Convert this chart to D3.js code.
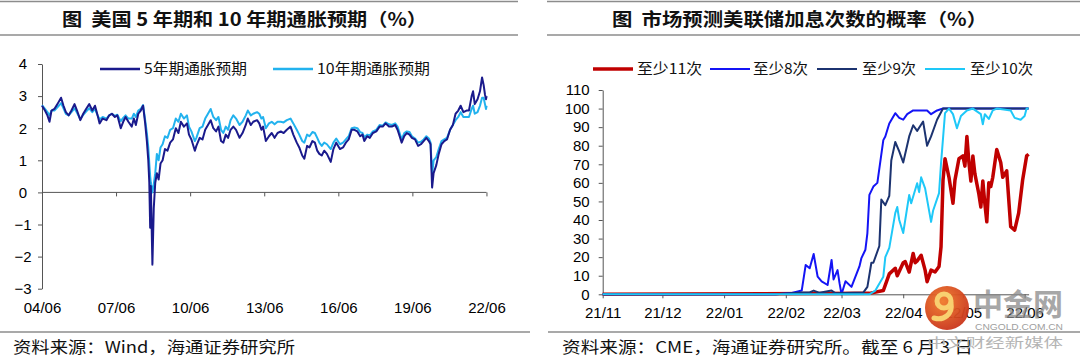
<!DOCTYPE html>
<html><head><meta charset="utf-8">
<script src="https://cdn.jsdelivr.net/npm/d3@7"></script>
<style>body{margin:0;background:#fff;}svg{display:block;}text{white-space:pre;}</style>
</head><body>
<svg id="c" width="1080" height="359"></svg>
<script>
// ---------------- LEFT CHART DATA ----------------
const leftDates = ["2004-06-01","2004-07-15","2004-08-20","2004-09-20","2004-10-20","2004-12-01","2005-01-15","2005-03-10","2005-04-15","2005-05-20","2005-07-01","2005-08-10","2005-09-25","2005-11-01","2005-12-20","2006-02-01","2006-03-15","2006-05-01","2006-06-15","2006-07-25","2006-09-01","2006-10-01","2006-11-15","2007-01-10","2007-02-20","2007-04-01","2007-05-15","2007-06-20","2007-08-10","2007-09-15","2007-10-20","2007-12-01","2008-01-20","2008-02-20","2008-03-20","2008-04-25","2008-06-01","2008-07-05","2008-08-05","2008-08-30","2008-09-20","2008-10-05","2008-10-18","2008-10-28","2008-11-20","2008-12-10","2009-01-01","2009-01-25","2009-02-20","2009-03-20","2009-04-20","2009-05-25","2009-07-01","2009-08-10","2009-09-20","2009-11-01","2009-12-10","2010-01-15","2010-03-01","2010-04-15","2010-05-15","2010-06-20","2010-08-10","2010-09-01","2010-10-20","2010-12-01","2011-01-10","2011-02-20","2011-04-01","2011-05-10","2011-06-20","2011-07-25","2011-09-01","2011-10-05","2011-11-10","2011-12-15","2012-01-20","2012-03-01","2012-04-10","2012-06-01","2012-07-15","2012-09-01","2012-10-01","2012-11-15","2012-12-20","2013-02-15","2013-03-20","2013-04-20","2013-05-15","2013-06-25","2013-08-10","2013-09-20","2013-11-01","2013-12-15","2014-02-01","2014-03-15","2014-05-01","2014-06-25","2014-08-05","2014-09-25","2014-11-01","2014-12-15","2015-01-15","2015-02-25","2015-04-01","2015-05-15","2015-06-20","2015-07-25","2015-08-25","2015-09-30","2015-11-05","2015-12-15","2016-02-10","2016-03-20","2016-05-01","2016-06-25","2016-08-10","2016-09-20","2016-11-01","2016-12-15","2017-01-25","2017-03-10","2017-04-20","2017-05-25","2017-06-20","2017-08-01","2017-09-10","2017-10-25","2017-12-15","2018-02-01","2018-03-20","2018-05-01","2018-06-20","2018-08-01","2018-09-20","2018-10-25","2018-11-25","2018-12-25","2019-02-01","2019-03-10","2019-04-20","2019-05-25","2019-07-10","2019-08-25","2019-10-05","2019-11-15","2019-12-25","2020-01-31","2020-02-25","2020-03-19","2020-04-10","2020-05-20","2020-06-25","2020-08-05","2020-09-15","2020-10-25","2020-12-10","2021-01-20","2021-03-01","2021-04-10","2021-05-15","2021-06-25","2021-08-10","2021-09-15","2021-10-25","2021-11-15","2021-12-10","2022-01-20","2022-02-25","2022-03-15","2022-03-28","2022-04-20","2022-05-10","2022-05-25","2022-06-03"];
const breakeven5y = [2.70,2.55,2.40,2.20,2.55,2.60,2.75,2.95,2.70,2.50,2.40,2.55,2.75,2.55,2.25,2.45,2.60,2.75,2.55,2.70,2.40,2.15,2.30,2.25,2.40,2.45,2.35,2.40,2.00,2.20,2.35,2.20,2.05,2.30,2.10,2.45,2.55,2.70,2.15,1.60,1.00,0.30,-1.10,0.20,-2.25,-0.50,0.30,0.60,0.40,0.90,1.00,1.35,1.30,1.55,1.65,2.00,1.85,2.20,2.05,2.15,1.80,1.65,1.30,1.45,1.70,1.65,1.95,2.10,2.25,2.00,1.90,2.05,1.60,1.55,1.80,1.70,1.95,2.05,1.95,1.70,1.85,2.10,2.30,2.10,2.20,2.25,2.15,1.95,2.05,1.60,1.75,1.85,1.70,1.85,1.90,1.85,1.95,2.05,1.80,1.55,1.40,1.15,1.05,1.45,1.40,1.60,1.55,1.30,1.20,1.15,1.30,1.20,0.95,1.35,1.55,1.35,1.40,1.55,1.65,1.95,1.95,1.90,1.75,1.80,1.60,1.75,1.70,1.85,1.90,2.05,2.05,2.15,2.05,2.05,2.10,1.95,1.75,1.55,1.75,1.85,1.80,1.70,1.65,1.45,1.50,1.60,1.70,1.60,1.50,0.15,0.60,0.85,1.20,1.50,1.60,1.65,1.95,2.10,2.45,2.55,2.70,2.50,2.55,2.55,3.00,3.15,2.75,2.90,3.15,3.40,3.58,3.35,3.05,2.90,3.00];
const breakeven10y = [2.72,2.60,2.50,2.40,2.55,2.55,2.65,2.78,2.62,2.45,2.40,2.50,2.62,2.48,2.28,2.42,2.52,2.62,2.50,2.60,2.40,2.28,2.35,2.30,2.40,2.45,2.38,2.42,2.22,2.32,2.40,2.30,2.30,2.45,2.35,2.55,2.60,2.72,2.25,1.85,1.40,0.90,0.50,0.30,0.00,0.25,0.60,1.20,1.00,1.40,1.50,1.75,1.70,1.95,2.00,2.30,2.20,2.45,2.30,2.40,2.05,1.90,1.60,1.70,2.00,2.05,2.30,2.45,2.60,2.35,2.25,2.35,1.95,1.85,2.05,1.95,2.25,2.40,2.30,2.10,2.20,2.40,2.55,2.40,2.45,2.50,2.45,2.30,2.35,2.00,2.15,2.20,2.12,2.20,2.20,2.18,2.25,2.30,2.15,1.95,1.80,1.60,1.55,1.80,1.75,1.88,1.85,1.70,1.55,1.45,1.55,1.50,1.35,1.55,1.68,1.50,1.55,1.65,1.75,2.00,2.02,2.00,1.88,1.85,1.72,1.80,1.78,1.90,1.95,2.10,2.08,2.18,2.12,2.10,2.15,2.05,1.85,1.65,1.85,1.90,1.88,1.75,1.68,1.55,1.58,1.65,1.75,1.68,1.55,0.55,1.00,1.10,1.35,1.60,1.65,1.70,1.95,2.10,2.25,2.35,2.50,2.35,2.35,2.35,2.60,2.70,2.45,2.50,2.70,2.85,2.95,2.95,2.75,2.60,2.70];
const leftYTicks = [-3,-2,-1,0,1,2,3,4];
const leftXTicks = ["2004-06-01","2007-06-01","2010-06-01","2013-06-01","2016-06-01","2019-06-01","2022-06-01"];
const leftXLabels = ["04/06","07/06","10/06","13/06","16/06","19/06","22/06"];
const leftNames = ["5年期通胀预期","10年期通胀预期"];

// ---------------- RIGHT CHART DATA ----------------
const dates11 = ["2021-11-01","2022-03-15","2022-03-22","2022-03-25","2022-03-28","2022-03-29","2022-04-01","2022-04-02","2022-04-04","2022-04-06","2022-04-07","2022-04-08","2022-04-10","2022-04-12","2022-04-13","2022-04-15","2022-04-17","2022-04-19","2022-04-20","2022-04-21","2022-04-22","2022-04-24","2022-04-26","2022-04-27","2022-04-29","2022-05-01","2022-05-02","2022-05-03","2022-05-04","2022-05-05","2022-05-06","2022-05-07","2022-05-09","2022-05-10","2022-05-11","2022-05-12","2022-05-13","2022-05-14","2022-05-15","2022-05-16","2022-05-18","2022-05-20","2022-05-21","2022-05-23","2022-05-25","2022-05-27","2022-05-29","2022-05-31","2022-06-02","2022-06-03"];
const prob11 = [0,0.5,2,11,14,10,17,17.6,12,22,17,18,21,13,6.8,13,12,15,25.6,61.5,73,63,49,61.5,73,74.5,69,85,71,61,74.5,65,54,47,61,49,39,60,58,63,78,71,63,66.5,36.4,34.6,43.7,61.5,74.5,75.4];
const dates8 = ["2021-11-01","2022-01-27","2022-02-03","2022-02-09","2022-02-11","2022-02-13","2022-02-15","2022-02-17","2022-02-19","2022-02-22","2022-02-24","2022-02-25","2022-02-27","2022-02-28","2022-03-01","2022-03-03","2022-03-06","2022-03-10","2022-03-11","2022-03-13","2022-03-14","2022-03-15","2022-03-17","2022-03-19","2022-03-22","2022-03-23","2022-03-25","2022-03-28","2022-03-30","2022-04-01","2022-04-03","2022-04-06","2022-04-13","2022-04-15","2022-04-18","2022-04-21","2022-06-03"];
const prob8 = [0,0,0.5,2,15.8,14,21.7,9.5,7,5,18.5,8,13,6,0,7,4,15,19.5,24,33,53.5,58,60,83,85,92,97.5,95,94,97,99,99,97,99,100,100];
const dates9 = ["2021-11-01","2022-01-27","2022-02-09","2022-02-13","2022-02-15","2022-02-18","2022-02-24","2022-02-26","2022-03-12","2022-03-14","2022-03-16","2022-03-17","2022-03-20","2022-03-21","2022-03-23","2022-03-25","2022-03-26","2022-03-28","2022-03-30","2022-04-01","2022-04-04","2022-04-06","2022-04-08","2022-04-11","2022-04-13","2022-04-15","2022-04-18","2022-04-21","2022-06-03"];
const prob9 = [0,0,1,1,2,0.8,2,0.5,1,4,17,17,26,51,48,53,72,82,77,71,85,91,88,93,80,85,94,100,100];
const dates10 = ["2021-11-01","2022-03-15","2022-03-18","2022-03-22","2022-03-23","2022-03-25","2022-03-28","2022-03-29","2022-03-30","2022-04-01","2022-04-04","2022-04-05","2022-04-08","2022-04-09","2022-04-10","2022-04-12","2022-04-15","2022-04-16","2022-04-19","2022-04-20","2022-04-22","2022-04-24","2022-04-26","2022-04-28","2022-04-30","2022-05-03","2022-05-06","2022-05-10","2022-05-11","2022-05-12","2022-05-14","2022-05-16","2022-05-18","2022-05-25","2022-05-27","2022-05-30","2022-06-01","2022-06-02","2022-06-03"];
const prob10 = [0,0,2,9.5,20,25,43.7,47,40,33,53.5,49,59.8,55,63,57,39,45,54.5,70.5,97.5,100,97,89.4,96,99,100,97,91.5,97,94.4,99,100,99,95,94,96,100,100];
const rightYTicks = [0,10,20,30,40,50,60,70,80,90,100,110];
const rightXTicks = ["2021-11-01","2021-12-01","2022-01-01","2022-02-01","2022-03-01","2022-04-01","2022-05-01","2022-06-01"];
const rightXLabels = ["21/11","21/12","22/01","22/02","22/03","22/04","22/05","22/06"];
const rightNames = ["至少11次","至少8次","至少9次","至少10次"];

// ---------------- DRAW ----------------
const svg = d3.select("#c");
const parse = d3.timeParse("%Y-%m-%d");
const CJK = "'Noto Sans CJK SC','Noto Sans',sans-serif";
const LAT = "'Liberation Sans',Arial,sans-serif";
const ruleC = "#8c8c8c";

function rule(x1,x2,y,w){svg.append("line").attr("x1",x1).attr("x2",x2).attr("y1",y).attr("y2",y).attr("stroke",ruleC).attr("stroke-width",w);}
function txt(s,x,y,size,len,opt={}){
  const t = svg.append("text").attr("x",x).attr("y",y).attr("font-size",size)
    .attr("font-family",opt.family||CJK).attr("fill",opt.fill||"#111").attr("xml:space","preserve").text(s);
  if(opt.weight) t.attr("font-weight",opt.weight);
  if(len){t.attr("textLength",len).attr("lengthAdjust","spacingAndGlyphs");}
  return t;
}
// title rules
rule(0,518,1.5,1.5); rule(0,518,35,1.5);
rule(547,1080,1.5,1.5); rule(547,1080,35,1.5);
rule(0,530,332,1.5); rule(548,1080,332,1.5);

txt("图\u00a0\u00a0美国 5 年期和 10 年期通胀预期（%）",62,25.5,18,365,{weight:"bold"});
txt("图\u00a0\u00a0市场预测美联储加息次数的概率（%）",612,25.5,18,375,{weight:"bold"});
txt("资料来源：Wind，海通证券研究所",13,353,16,282);
txt("资料来源：CME，海通证券研究所。截至 6 月 3 日",562,353,16,411);

// ----- left chart -----
const lx = d3.scaleTime().domain([parse("2004-06-01"),parse("2022-06-03")]).range([42,486.6]);
const ly = d3.scaleLinear().domain([-3,4]).range([288.7,64]);
const axisC = "#555";
const gly = svg.append("g").attr("transform","translate(42,0)")
  .call(d3.axisLeft(ly).tickValues(leftYTicks).tickSize(4).tickSizeOuter(0).tickFormat(d3.format("d")));
gly.selectAll("text").attr("text-anchor","middle").attr("x",-19);
const glx = svg.append("g").attr("transform",`translate(0,${ly(0)})`)
  .call(d3.axisBottom(lx).tickValues(leftXTicks.map(parse)).tickSize(4).tickSizeOuter(0).tickPadding(105.8)
    .tickFormat((d,i)=>leftXLabels[i]));
glx.select(".domain").attr("d",`M42,0H${lx(parse("2022-06-01"))}`);
[gly,glx].forEach(g=>{g.selectAll("path,line").attr("stroke",axisC);
  g.selectAll("text").attr("font-family",LAT).attr("font-size",15).attr("fill","#000");});

const lline = d3.line().x((d,i)=>lx(parse(leftDates[i]))).y(d=>ly(d));
svg.append("path").attr("d",lline(breakeven10y)).attr("fill","none").attr("stroke","#22b2ee").attr("stroke-width",2).attr("stroke-linejoin","round");
svg.append("path").attr("d",lline(breakeven5y)).attr("fill","none").attr("stroke","#1a1a8c").attr("stroke-width",2).attr("stroke-linejoin","round");

// left legend
svg.append("line").attr("x1",100).attr("x2",140).attr("y1",69).attr("y2",69).attr("stroke","#1a1a8c").attr("stroke-width",2.5);
txt(leftNames[0],144,74,15,103);
svg.append("line").attr("x1",273).attr("x2",313).attr("y1",69).attr("y2",69).attr("stroke","#22b2ee").attr("stroke-width",2.5);
txt(leftNames[1],317,74,15,113);

// ----- right chart -----
const rx = d3.scaleTime().domain([parse("2021-11-01"),parse("2022-06-03")]).range([602.7,1028.6]);
const ry = d3.scaleLinear().domain([0,110]).range([294.3,90]);
const gry = svg.append("g").attr("transform","translate(602.7,0)")
  .call(d3.axisLeft(ry).tickValues(rightYTicks).tickSize(4).tickSizeOuter(0).tickPadding(9));
const grx = svg.append("g").attr("transform",`translate(0,${ry(0)})`)
  .call(d3.axisBottom(rx).tickValues(rightXTicks.map(parse)).tickSize(4).tickSizeOuter(0).tickPadding(9.4)
    .tickFormat((d,i)=>rightXLabels[i]));
[gry,grx].forEach(g=>{g.selectAll("path,line").attr("stroke",axisC);
  g.selectAll("text").attr("font-family",LAT).attr("font-size",15).attr("fill","#000");});

const rSeries = [
  {d:dates11,v:prob11,c:"#c00000",w:3.5},
  {d:dates8,v:prob8,c:"#1414f5",w:2},
  {d:dates9,v:prob9,c:"#1c3370",w:2},
  {d:dates10,v:prob10,c:"#1ec8f8",w:2}
];
rSeries.forEach(s=>{
  const ln = d3.line().x((d,i)=>rx(parse(s.d[i]))).y(d=>ry(d));
  svg.append("path").attr("d",ln(s.v)).attr("fill","none").attr("stroke",s.c).attr("stroke-width",s.w).attr("stroke-linejoin","round");
});
// right legend
const legX = [593,710,817,925], legT=[637,753,862,970], legL=[65,55,54,63];
rSeries.forEach((s,i)=>{
  svg.append("line").attr("x1",legX[i]).attr("x2",legX[i]+40).attr("y1",69).attr("y2",69).attr("stroke",s.c).attr("stroke-width",i===0?3.5:2);
  txt(rightNames[i],legT[i],74,15,legL[i]);
});

// ----- watermark (drawn on top, as in the reference) -----
const wm = svg.append("g");
const grad = svg.append("defs").append("radialGradient").attr("id","wmg").attr("cx","40%").attr("cy","35%").attr("r","70%");
grad.append("stop").attr("offset","0%").attr("stop-color","#f07a2a");
grad.append("stop").attr("offset","100%").attr("stop-color","#c8321a");
wm.append("circle").attr("cx",947).attr("cy",308).attr("r",22).attr("fill","url(#wmg)").attr("opacity",0.95);
wm.append("circle").attr("cx",944).attr("cy",301).attr("r",7).attr("fill","none").attr("stroke","#f8d070").attr("stroke-width",5);
wm.append("path").attr("d","M951,303 C953,314 944,321 934,318").attr("fill","none").attr("stroke","#f8d070").attr("stroke-width",5).attr("stroke-linecap","round");
txt("中金网",973,315,30,90,{weight:"bold",fill:"#8a8a8a"}).attr("opacity",0.75);
txt("CNGOLD.COM.CN",975,330,9,88,{family:LAT,fill:"#a0a0a0"});
txt("中文财经新媒体",927,347,13,136,{fill:"#b5b5b5"});
</script>
</body></html>
